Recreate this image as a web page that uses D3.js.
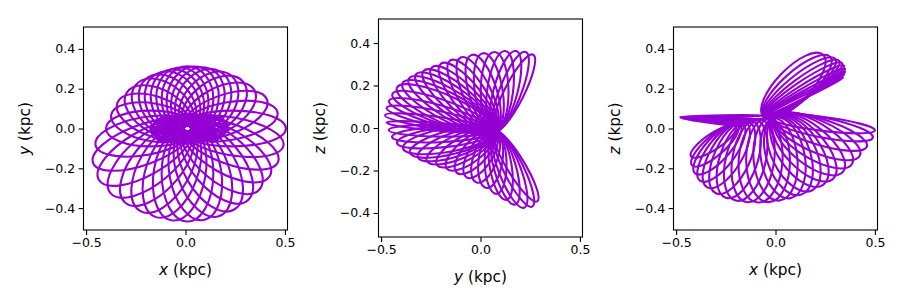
<!DOCTYPE html>
<html>
<head>
<meta charset="utf-8">
<script src="https://cdn.jsdelivr.net/npm/d3@7"></script>
<style>
  body { margin: 0; background: #fff; }
  svg { display: block; font-family: "DejaVu Sans", sans-serif; }
</style>
</head>
<body>
<svg id="chart" width="900" height="300"></svg>
<script>
// ---- data (kpc) ----
// every loop of the orbit is drawn as an ellipse whose long axis runs
// from its inner end (start) to its far end (tip), with the given half width
var xTicks = [-0.5, 0.0, 0.5];
var yTicks = [-0.4, -0.2, 0.0, 0.2, 0.4];

// x-y view: 36 loops round the centre, then the dense core
var xyStartX = [-0.03, -0.0245, -0.018, -0.012, -0.005, 0.0, 0.0025, 0.005, 0.0075, 0.01, 0.0125, 0.015,
                0.0175, 0.0196, 0.025, 0.032, 0.038, 0.0445, 0.05, 0.0445, 0.038, 0.032, 0.025, 0.0196,
                0.0175, 0.015, 0.0125, 0.01, 0.0075, 0.005, 0.0025, 0.0, -0.005, -0.012, -0.018, -0.0245,
                -0.17, -0.16, -0.15, -0.17, -0.14, -0.15,
                -0.16, -0.15, -0.14, -0.12, -0.17, -0.13];
var xyStartY = [0, -0.006, -0.010, -0.0125, -0.013, -0.0115, -0.013, -0.014, -0.015, -0.015, -0.015, -0.014,
                -0.013, -0.0115, -0.013, -0.0125, -0.010, -0.006, 0, 0.006, 0.010, 0.0125, 0.013, 0.0115,
                0.013, 0.014, 0.015, 0.015, 0.015, 0.014, 0.013, 0.0115, 0.013, 0.0125, 0.010, 0.006,
                -0.01, 0.02, -0.03, 0.0, 0.04, -0.045,
                0.0, 0.03, -0.05, 0.06, -0.02, -0.06];
var xyTipX = [0.505, 0.463, 0.410, 0.346, 0.290, 0.232, 0.175, 0.119, 0.065, 0.01, -0.044, -0.096,
              -0.148, -0.199, -0.250, -0.297, -0.343, -0.374, -0.40, -0.453, -0.465, -0.436, -0.377, -0.303,
              -0.229, -0.151, -0.071, 0.01, 0.091, 0.170, 0.245, 0.313, 0.373, 0.424, 0.466, 0.493,
              0.2, 0.19, 0.2, 0.21, 0.18, 0.17,
              0.2, 0.19, 0.18, 0.16, 0.21, 0.15];
var xyTipY = [0, 0.080, 0.145, 0.194, 0.235, 0.264, 0.286, 0.301, 0.310, 0.312, 0.305, 0.291,
              0.273, 0.249, 0.219, 0.178, 0.128, 0.068, 0, -0.082, -0.173, -0.258, -0.325, -0.373,
              -0.414, -0.444, -0.461, -0.467, -0.460, -0.440, -0.407, -0.361, -0.305, -0.239, -0.166, -0.085,
              0.01, -0.02, 0.03, 0.0, -0.04, 0.045,
              0.0, -0.03, 0.05, -0.06, 0.02, 0.06];
var xyHalfWidth = [0.09, 0.095, 0.10, 0.11, 0.12, 0.125, 0.13, 0.13, 0.13, 0.13, 0.13, 0.13,
                   0.13, 0.125, 0.12, 0.11, 0.10, 0.095, 0.09, 0.095, 0.10, 0.11, 0.12, 0.125,
                   0.13, 0.13, 0.13, 0.13, 0.13, 0.13, 0.13, 0.125, 0.12, 0.11, 0.10, 0.095,
                   0.03, 0.05, 0.06, 0.07, 0.04, 0.05,
                   0.02, 0.03, 0.035, 0.03, 0.045, 0.025];

// y-z view (all loops leave from one pinch point)
var yzPinch = [0.072, -0.015];
var yzTipY = [-0.48, -0.472, -0.46, -0.443, -0.42, -0.392, -0.36, -0.325, -0.287, -0.245,
              -0.2, -0.152, -0.1, -0.045, 0.012, 0.07, 0.125, 0.18, 0.228, 0.265,
              -0.472, -0.462, -0.445, -0.42, -0.39, -0.355, -0.315, -0.27, -0.22, -0.17,
              -0.12, -0.07, -0.02, 0.03, 0.08, 0.13, 0.175, 0.22, 0.26, 0.285];
var yzTipZ = [0.06, 0.095, 0.128, 0.16, 0.19, 0.212, 0.232, 0.252, 0.268, 0.285,
              0.302, 0.318, 0.332, 0.344, 0.352, 0.358, 0.362, 0.362, 0.358, 0.345,
              0.025, -0.01, -0.042, -0.07, -0.095, -0.117, -0.137, -0.155, -0.172, -0.19,
              -0.21, -0.232, -0.256, -0.282, -0.31, -0.338, -0.36, -0.375, -0.37, -0.345];
var yzHalfWidth = [0.03, 0.04, 0.05, 0.06, 0.07, 0.07, 0.07, 0.07, 0.07, 0.07,
                   0.07, 0.07, 0.07, 0.07, 0.07, 0.07, 0.065, 0.06, 0.055, 0.05,
                   0.02, 0.03, 0.04, 0.05, 0.06, 0.06, 0.06, 0.06, 0.06, 0.06,
                   0.06, 0.06, 0.06, 0.06, 0.055, 0.055, 0.055, 0.055, 0.05, 0.045];

// x-z view: lower lobe, upper lobe, flat wedge on the left
var xzStartX = [-0.2, -0.19, -0.18, -0.165, -0.15, -0.135, -0.12, -0.1, -0.08, -0.06, -0.04, -0.02,
                0.0, 0.0, 0.0, 0.0, 0.0, 0.0, 0.0, -0.01, -0.02, -0.03, -0.04,
                -0.06, -0.06, -0.06, -0.06, -0.06, -0.06, -0.06, -0.06, -0.06, -0.06,
                -0.05, -0.08, -0.12, -0.16];
var xzStartZ = [0.01, 0.015, 0.02, 0.025, 0.03, 0.035, 0.04, 0.045, 0.048, 0.05, 0.052, 0.054,
                0.055, 0.056, 0.057, 0.058, 0.058, 0.058, 0.058, 0.058, 0.058, 0.058, 0.058,
                0.06, 0.06, 0.06, 0.06, 0.06, 0.06, 0.06, 0.06, 0.06, 0.06,
                0.065, 0.045, 0.025, 0.01];
var xzTipX = [-0.425, -0.42, -0.405, -0.38, -0.345, -0.3, -0.25, -0.2, -0.145, -0.09, -0.035, 0.02,
              0.075, 0.13, 0.185, 0.24, 0.29, 0.34, 0.385, 0.425, 0.46, 0.49, 0.5,
              0.24, 0.275, 0.3, 0.32, 0.335, 0.345, 0.35, 0.35, 0.345, 0.34,
              -0.48, -0.478, -0.476, -0.474];
var xzTipZ = [-0.14, -0.185, -0.225, -0.262, -0.295, -0.325, -0.348, -0.362, -0.37, -0.372, -0.37, -0.362,
              -0.35, -0.332, -0.31, -0.283, -0.252, -0.217, -0.178, -0.135, -0.09, -0.045, -0.01,
              0.37, 0.36, 0.35, 0.34, 0.328, 0.315, 0.3, 0.285, 0.27, 0.255,
              0.058, 0.056, 0.054, 0.052];
var xzHalfWidth = [0.04, 0.05, 0.06, 0.07, 0.08, 0.09, 0.095, 0.10, 0.105, 0.11, 0.11, 0.11,
                   0.11, 0.11, 0.11, 0.105, 0.10, 0.095, 0.09, 0.08, 0.065, 0.05, 0.035,
                   0.085, 0.075, 0.063, 0.052, 0.042, 0.032, 0.024, 0.017, 0.012, 0.008,
                   0.005, 0.005, 0.005, 0.005];

var panels = [
  {left: 83.5, top: 27, w: 204, h: 203, yLim: 0.51, sx: xyStartX, sy: xyStartY,
   tx: xyTipX, ty: xyTipY, hw: xyHalfWidth, xName: "x", yName: "y", yLabelX: 30},
  {left: 378.5, top: 19, w: 204, h: 218, yLim: 0.513, pinch: yzPinch,
   tx: yzTipY, ty: yzTipZ, hw: yzHalfWidth, xName: "y", yName: "z", yLabelX: 325},
  {left: 673.5, top: 27, w: 204, h: 203, yLim: 0.51, sx: xzStartX, sy: xzStartZ,
   tx: xzTipX, ty: xzTipZ, hw: xzHalfWidth, xName: "x", yName: "z", yLabelX: 620}
];

var svg = d3.select("#chart");
var fmt = d3.format(".1f");
var orbitColor = "#9400d3";

panels.forEach(function (p, i) {
  var x = d3.scaleLinear().domain([-0.513, 0.513]).range([0, p.w]);
  var y = d3.scaleLinear().domain([-p.yLim, p.yLim]).range([p.h, 0]);
  var g = svg.append("g").attr("transform", "translate(" + p.left + "," + p.top + ")");

  g.append("clipPath").attr("id", "clip" + i)
    .append("rect").attr("width", p.w).attr("height", p.h);

  var loops = p.tx.map(function (d, k) {
    var x0 = x(p.sx ? p.sx[k] : p.pinch[0]), y0 = y(p.sy ? p.sy[k] : p.pinch[1]);
    var x1 = x(p.tx[k]), y1 = y(p.ty[k]);
    return {
      cx: (x0 + x1) / 2, cy: (y0 + y1) / 2,
      rx: Math.hypot(x1 - x0, y1 - y0) / 2,
      ry: x(p.hw[k]) - x(0),
      ang: Math.atan2(y1 - y0, x1 - x0) * 180 / Math.PI
    };
  });

  g.append("g").attr("clip-path", "url(#clip" + i + ")")
    .selectAll("ellipse").data(loops).enter().append("ellipse")
    .attr("cx", function (d) { return d.cx; })
    .attr("cy", function (d) { return d.cy; })
    .attr("rx", function (d) { return d.rx; })
    .attr("ry", function (d) { return d.ry; })
    .attr("transform", function (d) { return "rotate(" + d.ang + "," + d.cx + "," + d.cy + ")"; })
    .attr("fill", "none")
    .attr("stroke", orbitColor)
    .attr("stroke-width", 2.1);

  var xa = g.append("g").attr("transform", "translate(0," + p.h + ")")
    .call(d3.axisBottom(x).tickValues(xTicks).tickFormat(fmt).tickSize(4.9).tickPadding(3.5));
  var ya = g.append("g")
    .call(d3.axisLeft(y).tickValues(yTicks).tickFormat(fmt).tickSize(4.9).tickPadding(3.5));
  [xa, ya].forEach(function (a) {
    a.select(".domain").remove();
    a.selectAll(".tick line").attr("stroke", "#000").attr("stroke-width", 1.1);
    a.selectAll(".tick text").attr("font-size", 12.5).attr("fill", "#000")
      .attr("font-family", "DejaVu Sans, sans-serif");
  });

  g.append("rect").attr("width", p.w).attr("height", p.h)
    .attr("fill", "none").attr("stroke", "#000").attr("stroke-width", 1.1);

  var xl = svg.append("text")
    .attr("x", p.left + p.w / 2).attr("y", p.top + p.h + 44.5)
    .attr("text-anchor", "middle").attr("font-size", 15.3);
  xl.append("tspan").attr("font-style", "italic").text(p.xName);
  xl.append("tspan").text(" (kpc)");

  var yl = svg.append("text")
    .attr("transform", "translate(" + p.yLabelX + "," + (p.top + p.h / 2) + ") rotate(-90)")
    .attr("text-anchor", "middle").attr("font-size", 15.3);
  yl.append("tspan").attr("font-style", "italic").text(p.yName);
  yl.append("tspan").text(" (kpc)");
});
</script>
</body>
</html>
